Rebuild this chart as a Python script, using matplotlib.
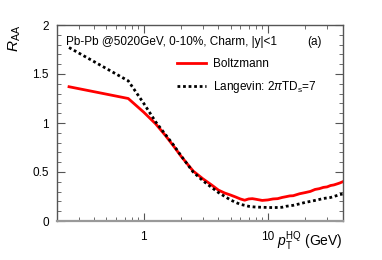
import numpy as np
import matplotlib
matplotlib.use("Agg")
import matplotlib.pyplot as plt
from matplotlib.ticker import LogLocator, NullFormatter, FixedLocator, FixedFormatter, MultipleLocator

plt.rcParams["font.family"] = ["Liberation Sans", "DejaVu Sans"]
plt.rcParams["mathtext.fontset"] = "custom"
plt.rcParams["mathtext.rm"] = "Liberation Sans"
plt.rcParams["mathtext.it"] = "Liberation Sans:italic"

# Boltzmann transport (red, solid)
pt_boltz = [0.25, 0.75, 1.0, 1.25, 1.5, 1.75, 2.0, 2.5, 3.0, 3.5, 4.0, 4.5, 5.0, 5.5,
            6.0, 6.5, 7.0, 7.5, 8, 9, 10, 11, 12, 13, 14, 15, 16, 18, 20, 22, 24,
            26, 28, 30, 32, 34, 36, 38, 40]
raa_boltz = [1.37, 1.25, 1.11, 0.99, 0.87, 0.76, 0.66, 0.51, 0.43, 0.37, 0.315, 0.285,
             0.265, 0.245, 0.225, 0.212, 0.225, 0.228, 0.222, 0.21, 0.215, 0.225, 0.228,
             0.24, 0.248, 0.256, 0.258, 0.278, 0.29, 0.302, 0.322, 0.33, 0.343, 0.348,
             0.362, 0.368, 0.378, 0.388, 0.40]

# Langevin, 2piTD_s = 7 (black, dotted)
pt_lang = [0.25, 0.75, 1.0, 1.25, 1.5, 1.75, 2.0, 2.5, 3.0, 3.5, 4.0, 4.5, 5.0, 5.5,
           6.0, 6.5, 7.0, 7.5, 8, 9, 10, 11, 12, 13, 14, 15, 16, 18, 20, 22, 24,
           26, 28, 30, 32, 34, 36, 38, 40]
raa_lang = [1.77, 1.43, 1.20, 1.01, 0.88, 0.77, 0.665, 0.50, 0.41, 0.345, 0.29, 0.25,
            0.215, 0.19, 0.17, 0.16, 0.15, 0.145, 0.142, 0.14, 0.138, 0.137, 0.138,
            0.14, 0.15, 0.155, 0.16, 0.175, 0.19, 0.2, 0.21, 0.22, 0.23, 0.235, 0.24,
            0.25, 0.26, 0.27, 0.275]

fig = plt.figure(figsize=(3.82, 2.60), dpi=100)
ax = fig.add_axes([57 / 382, 1 - 221 / 260, 286 / 382, 196 / 260])

ax.plot(pt_boltz, raa_boltz, color="#ff0000", lw=2, label="Boltzmann")
ax.plot(pt_lang, raa_lang, color="black", lw=2, linestyle=(0, (1, 1)),
        label="Langevin: 2$\\pi$TD$_\\mathrm{s}$=7")

ax.set_xscale("log")
ax.set_xlim(0.2, 40.3)
ax.set_ylim(0, 2)

ax.xaxis.set_major_locator(FixedLocator([1, 10]))
ax.xaxis.set_major_formatter(FixedFormatter(["1", "10"]))
ax.xaxis.set_minor_locator(LogLocator(base=10, subs=np.arange(2, 10)))
ax.xaxis.set_minor_formatter(NullFormatter())
ax.yaxis.set_major_locator(FixedLocator([0, 0.5, 1, 1.5, 2]))
ax.yaxis.set_major_formatter(FixedFormatter(["0", "0.5", "1", "1.5", "2"]))
ax.yaxis.set_minor_locator(MultipleLocator(0.1))

ax.tick_params(which="both", direction="in", top=True, right=True,
               labelsize=8.5, color="#555555")
ax.tick_params(which="major", length=5.8, width=0.8)
ax.tick_params(which="minor", length=3, width=0.6)
ax.tick_params(axis="y", pad=6)
ax.tick_params(axis="x", pad=7)
for s in ["left", "top", "right"]:
    ax.spines[s].set_color("#555555")
    ax.spines[s].set_linewidth(1.0)
ax.spines["bottom"].set_color("#999999")
ax.spines["bottom"].set_linewidth(1.6)

ax.text(0.03, 0.915, "Pb-Pb @5020GeV, 0-10%, Charm, |y|<1", transform=ax.transAxes,
        fontsize=8.5, va="center", ha="left")
ax.text(0.925, 0.915, "(a)", transform=ax.transAxes, fontsize=8.5, va="center", ha="right")

ax.legend(loc="upper left", bbox_to_anchor=(0.418, 0.83), frameon=False,
          fontsize=8.5, handlelength=2.5, handletextpad=0.55, labelspacing=0.75,
          borderpad=0, borderaxespad=0)

fig.text(15 / 382, 1 - 38 / 260, "$R_{\\mathrm{AA}}$", rotation=90, fontsize=11,
         ha="center", va="center")
fig.text(343 / 382, 1 - 241 / 260, "$p_{\\mathrm{T}}^{\\mathrm{HQ}}$ (GeV)", fontsize=10,
         ha="right", va="center")

fig.savefig("out.png", dpi=100)
